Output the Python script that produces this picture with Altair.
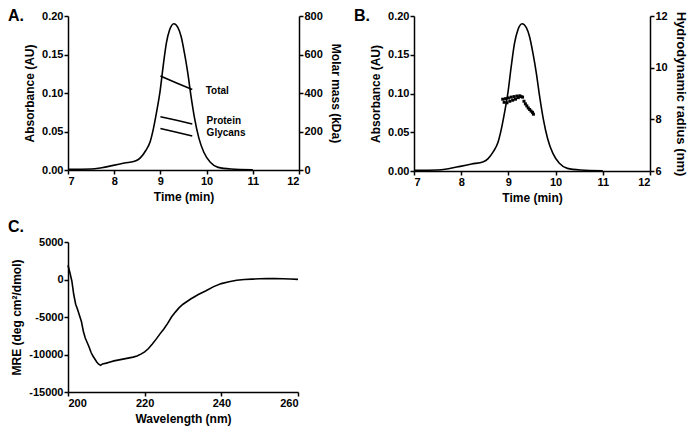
import altair as alt
import pandas as pd

FONT = "Liberation Sans"

# ---- Panel A / B: SEC chromatogram (absorbance) ----
time_min = [7.0, 7.5, 7.73, 7.98, 8.22, 8.47, 8.57, 8.68, 8.78, 8.85, 8.92, 8.99,
            9.06, 9.13, 9.20, 9.29, 9.38, 9.45, 9.52, 9.59, 9.66, 9.74, 9.83,
            9.94, 10.08, 10.25, 10.53, 11.0]
absorbance = [0.001, 0.0013, 0.003, 0.006, 0.009, 0.012, 0.016, 0.025, 0.037, 0.054,
              0.076, 0.101, 0.135, 0.165, 0.182, 0.190, 0.185, 0.173, 0.152, 0.127,
              0.097, 0.067, 0.042, 0.023, 0.010, 0.0034, 0.0013, 0.0004]

# ---- Panel A: molar mass (kDa) ----
mm_time = [9.00, 9.35, 9.69]
total_kda = [488, 452, 418]
protein_kda = [277, 258, 239]
glycan_kda = [216, 196, 177]
mm_labels = ["Total", "Protein", "Glycans"]
mm_label_time = [9.98, 10.0, 10.0]
mm_label_kda = [412, 256, 193]

# ---- Panel B: hydrodynamic radius (nm) ----
rh_time = [8.88, 8.91, 8.94, 8.97, 9.00, 9.03, 9.06, 9.09, 9.12, 9.15, 9.18, 9.21,
           9.24, 9.27, 9.30, 9.33, 9.36, 9.39, 9.42, 9.45, 9.48, 9.51, 9.53]
rh_nm = [8.78, 8.66, 8.80, 8.64, 8.83, 8.70, 8.86, 8.74, 8.88, 8.78, 8.90, 8.84,
         8.91, 8.88, 8.86, 8.70, 8.60, 8.52, 8.44, 8.38, 8.32, 8.27, 8.20]

# ---- Panel C: CD spectrum ----
wavelength = [200, 200.5, 201, 201.5, 202, 202.5, 203, 203.5, 204, 204.5, 205, 205.5,
              206, 206.5, 207, 207.5, 208, 208.5, 209, 210, 211, 212, 213, 214, 215,
              216, 217, 218, 219, 220, 221, 222, 223, 224, 225, 226, 227, 228, 229,
              230, 232, 234, 236, 238, 240, 242, 244, 246, 248, 250, 252, 254, 256,
              258, 260]
mre = [1900, 900, -200, -2000, -3300, -4000, -4800, -5600, -6900, -7800, -8400, -9000,
       -9700, -10200, -10600, -11000, -11300, -11450, -11250, -11150, -11000, -10850,
       -10750, -10650, -10550, -10450, -10350, -10200, -9950, -9650, -9200, -8600,
       -7950, -7250, -6600, -5850, -5000, -4350, -3750, -3300, -2600, -2000, -1500,
       -950, -550, -300, -100, 0, 50, 100, 130, 120, 100, 60, 20]

abs_df = pd.DataFrame({"t": time_min, "a": absorbance})
mm_df = pd.DataFrame({
    "t": mm_time * 3,
    "m": total_kda + protein_kda + glycan_kda,
    "s": ["Total"] * 3 + ["Protein"] * 3 + ["Glycans"] * 3,
})
mm_lab_df = pd.DataFrame({"t": mm_label_time, "m": mm_label_kda, "label": mm_labels})
rh_df = pd.DataFrame({"t": rh_time, "r": rh_nm})
cd_df = pd.DataFrame({"w": wavelength, "mre": mre})

LW = 1.6


def time_x():
    return alt.X("t:Q", scale=alt.Scale(domain=[7, 12], nice=False),
                 axis=alt.Axis(values=[7, 8, 9, 10, 11, 12], format="d",
                               title="Time (min)", titlePadding=5))


def abs_y():
    return alt.Y("a:Q", scale=alt.Scale(domain=[0, 0.2], nice=False),
                 axis=alt.Axis(orient="left", values=[0, 0.05, 0.1, 0.15, 0.2],
                               format=".2f", title="Absorbance (AU)", titlePadding=5))


def panel_label(txt, y):
    return alt.Chart(pd.DataFrame({"label": [txt]})).mark_text(
        align="left", baseline="top", fontSize=16, fontWeight="bold", font=FONT,
        color="black"
    ).encode(x=alt.value(-60), y=alt.value(y), text="label:N")


# Panel A
a_line = alt.Chart(abs_df).mark_line(color="black", strokeWidth=LW,
                                     interpolate="monotone").encode(x=time_x(), y=abs_y())
a_mm = alt.Chart(mm_df).mark_line(color="black", strokeWidth=LW).encode(
    x="t:Q",
    y=alt.Y("m:Q", scale=alt.Scale(domain=[0, 800], nice=False),
            axis=alt.Axis(orient="right", values=[0, 200, 400, 600, 800], format="d",
                          title="Molar mass (kDa)", titlePadding=6)),
    detail="s:N",
)
a_txt = alt.Chart(mm_lab_df).mark_text(
    align="left", baseline="middle", fontSize=10, fontWeight="bold", font=FONT,
    color="black"
).encode(x="t:Q",
         y=alt.Y("m:Q", scale=alt.Scale(domain=[0, 800], nice=False), axis=None),
         text="label:N")
panel_a = alt.layer(a_line, a_mm, a_txt, panel_label("A.", -8)).resolve_scale(
    y="independent").properties(width=231, height=154)

# Panel B
b_line = alt.Chart(abs_df).mark_line(color="black", strokeWidth=LW,
                                     interpolate="monotone").encode(x=time_x(), y=abs_y())
b_pts = alt.Chart(rh_df).mark_square(color="black", size=9, opacity=1).encode(
    x="t:Q",
    y=alt.Y("r:Q", scale=alt.Scale(domain=[6, 12], nice=False),
            axis=alt.Axis(orient="right", values=[6, 8, 10, 12], format="d",
                          title="Hydrodynamic radius (nm)", titlePadding=6,
                          titleFontSize=13)),
)
panel_b = alt.layer(b_line, b_pts, panel_label("B.", -8)).resolve_scale(
    y="independent").properties(width=236, height=155)

# Panel C
c_line = alt.Chart(cd_df).mark_line(color="black", strokeWidth=LW).encode(
    x=alt.X("w:Q", scale=alt.Scale(domain=[200, 260], nice=False),
            axis=alt.Axis(values=[200, 220, 240, 260], format="d",
                          title="Wavelength (nm)", titlePadding=5)),
    y=alt.Y("mre:Q", scale=alt.Scale(domain=[-15000, 5000], nice=False),
            axis=alt.Axis(values=[-15000, -10000, -5000, 0, 5000],
                          labelExpr="toString(datum.value)",
                          title="MRE (deg cm²/dmol)", titlePadding=5)),
)
panel_c = alt.layer(c_line, panel_label("C.", -23)).properties(width=230, height=150)

chart = alt.concat(
    panel_a, panel_b, panel_c, columns=2,
    spacing={"row": 71, "column": 115}, bounds="flush", align="each",
).properties(
    padding={"left": 0, "top": 0, "right": 2, "bottom": 2}
).configure_axis(
    labelFont=FONT, titleFont=FONT, labelFontWeight="bold", titleFontWeight="bold",
    labelFontSize=11, titleFontSize=12, labelColor="black", titleColor="black",
    domainColor="black", domainWidth=1.5, tickColor="black", tickWidth=1.5,
    tickSize=4, labelPadding=1, grid=False,
).configure_view(stroke=None)

chart.save("out.html", embed_options={"renderer": "svg", "actions": False})
